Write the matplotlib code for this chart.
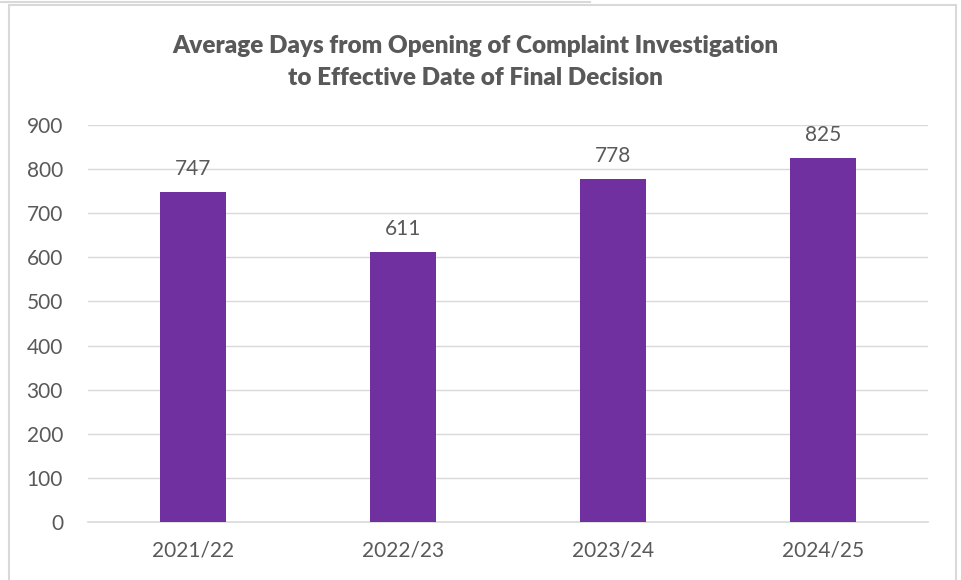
import matplotlib.pyplot as plt
from matplotlib.patches import Rectangle

years = ['2021/22', '2022/23', '2023/24', '2024/25']
avg_days = [747, 611, 778, 825]
y_ticks = [0, 100, 200, 300, 400, 500, 600, 700, 800, 900]

TEXT = '#595959'
GRID = '#D9D9D9'
BAR = '#7030A0'

plt.rcParams['font.family'] = ['Lato', 'DejaVu Sans']

fig = plt.figure(figsize=(9.62, 5.80), dpi=100)
ax = fig.add_axes([88 / 962, 58 / 580, 840 / 962, 397 / 580])

x = list(range(len(years)))
bars = ax.bar(x, avg_days, width=0.314, color=BAR, zorder=3)
for b, v in zip(bars, avg_days):
    ax.text(b.get_x() + b.get_width() / 2, v + 30, str(v), ha='center', va='bottom',
            fontsize=15, color=TEXT)

ax.set_xlim(-0.5, len(years) - 0.5)
ax.set_ylim(0, 900)
ax.set_yticks(y_ticks)
ax.set_xticks(x)
ax.set_xticklabels(years)
ax.tick_params(axis='both', length=0, labelsize=15, colors=TEXT)
ax.tick_params(axis='y', pad=18)
ax.tick_params(axis='x', pad=13)
ax.grid(axis='y', color=GRID, linewidth=1, zorder=0)
for side in ['top', 'right', 'left']:
    ax.spines[side].set_visible(False)
ax.spines['bottom'].set_color(GRID)
ax.spines['bottom'].set_linewidth(1.2)

fig.text(475 / 962, 1 - 62 / 580,
         'Average Days from Opening of Complaint Investigation\nto Effective Date of Final Decision',
         ha='center', va='center', fontsize=17.5, fontweight='heavy', color=TEXT, linespacing=1.55)

# chart frame
fig.patches.append(Rectangle((9 / 962, -0.01), 947 / 962, 1 - 5 / 580 + 0.01,
                             transform=fig.transFigure, fill=False, edgecolor=GRID, linewidth=1.5))
fig.lines.append(plt.Line2D([0, 590 / 962], [1 - 2 / 580, 1 - 2 / 580],
                            transform=fig.transFigure, color=GRID, linewidth=1.5))

fig.savefig('out.png', dpi=100)
